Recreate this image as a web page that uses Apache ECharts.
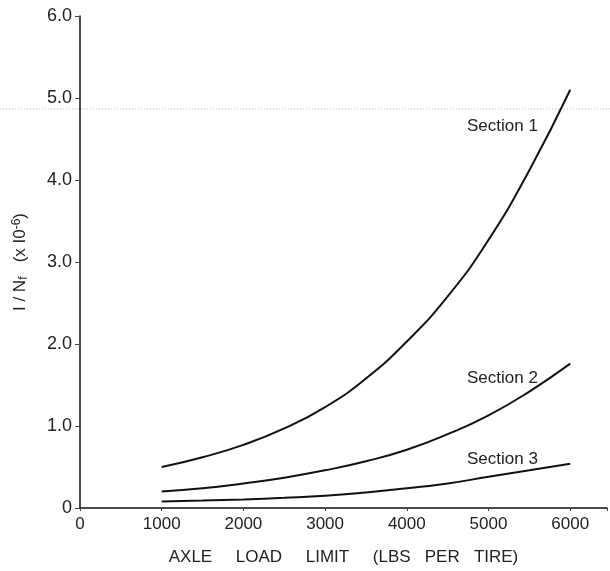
<!DOCTYPE html>
<html>
<head>
<meta charset="utf-8">
<script src="https://cdn.jsdelivr.net/npm/echarts@6/dist/echarts.min.js"></script>
<style>
  html, body { margin: 0; padding: 0; background: #fff; }
  #chart { width: 610px; height: 571px; }
</style>
</head>
<body>
<div id="chart"></div>
<script>
// axle load (lbs per tire)
const loads = [1000, 1500, 2000, 2500, 3000, 3500, 4000, 4500, 5000, 5500, 6000]
// 1/Nf (x10^-6)
const section1 = [0.5, 0.62, 0.77, 0.97, 1.23, 1.58, 2.03, 2.58, 3.27, 4.12, 5.1]
const section2 = [0.2, 0.24, 0.3, 0.37, 0.46, 0.57, 0.71, 0.9, 1.13, 1.42, 1.76]
const section3 = [0.08, 0.09, 0.105, 0.125, 0.15, 0.19, 0.24, 0.3, 0.38, 0.46, 0.54]
const sectionNames = ['Section 1', 'Section 2', 'Section 3']
// where the curve labels sit (data units)
const labelSpots = [[5170, 4.65], [5170, 1.58], [5170, 0.59]]

const chart = echarts.init(document.getElementById('chart'))
const font = 'Liberation Sans, Arial, sans-serif'

function makeSeries (name, vals, spot) {
  return {
    name: name,
    type: 'line',
    smooth: 0.5,
    symbol: 'none',
    data: loads.map((x, i) => [x, vals[i]]),
    lineStyle: { color: '#111', width: 2 },
    markPoint: {
      symbol: 'circle',
      symbolSize: 1,
      silent: true,
      itemStyle: { color: 'rgba(0,0,0,0)' },
      data: [{ coord: spot, value: name }],
      label: {
        show: true,
        formatter: name,
        color: '#222',
        fontSize: 17,
        fontFamily: font,
        position: 'inside'
      }
    }
  }
}

const option = {
  animation: false,
  backgroundColor: '#fff',
  grid: { left: 80, right: 3, top: 16, bottom: 57 },
  // faint scan line across the page
  graphic: [{
    type: 'line',
    shape: { x1: 0, y1: 109, x2: 610, y2: 109 },
    style: { stroke: '#bbb', lineWidth: 1, lineDash: [1, 2] },
    silent: true
  }],
  xAxis: {
    type: 'value',
    min: 0,
    max: 6450,
    interval: 1000,
    name: 'AXLE     LOAD     LIMIT     (LBS   PER   TIRE)',
    nameLocation: 'middle',
    nameGap: 41,
    nameTextStyle: { color: '#222', fontSize: 17, fontFamily: font },
    axisLine: { lineStyle: { color: '#111', width: 1.5 } },
    axisTick: { show: true, inside: false, length: 3, lineStyle: { color: '#444' } },
    axisLabel: {
      color: '#222',
      fontSize: 17,
      fontFamily: font,
      margin: 8,
      formatter: v => (v % 1000 === 0 ? String(v) : '')
    },
    splitLine: { show: false }
  },
  yAxis: {
    type: 'value',
    min: 0,
    max: 6,
    interval: 1,
    name: '{n|I / N}{s|f}{n|   (x I0}{p|-6}{n|)}',
    nameLocation: 'middle',
    nameGap: 50,
    nameRotate: 90,
    nameTextStyle: {
      color: '#222',
      fontFamily: font,
      rich: {
        n: { fontSize: 17, fontFamily: font, color: '#222' },
        s: { fontSize: 12, fontFamily: font, color: '#222', verticalAlign: 'bottom', padding: [7, 0, 0, 0] },
        p: { fontSize: 12, fontFamily: font, color: '#222', verticalAlign: 'top', padding: [0, 0, 7, 0] }
      }
    },
    axisLine: { show: true, lineStyle: { color: '#111', width: 1.5 } },
    axisTick: { show: true, length: 5, lineStyle: { color: '#444' } },
    axisLabel: {
      color: '#222',
      fontSize: 18,
      fontFamily: font,
      margin: 8,
      formatter: v => (v === 0 ? '0' : v.toFixed(1))
    },
    splitLine: { show: false }
  },
  series: [
    makeSeries(sectionNames[0], section1, labelSpots[0]),
    makeSeries(sectionNames[1], section2, labelSpots[1]),
    makeSeries(sectionNames[2], section3, labelSpots[2])
  ]
}

chart.setOption(option)
</script>
</body>
</html>
